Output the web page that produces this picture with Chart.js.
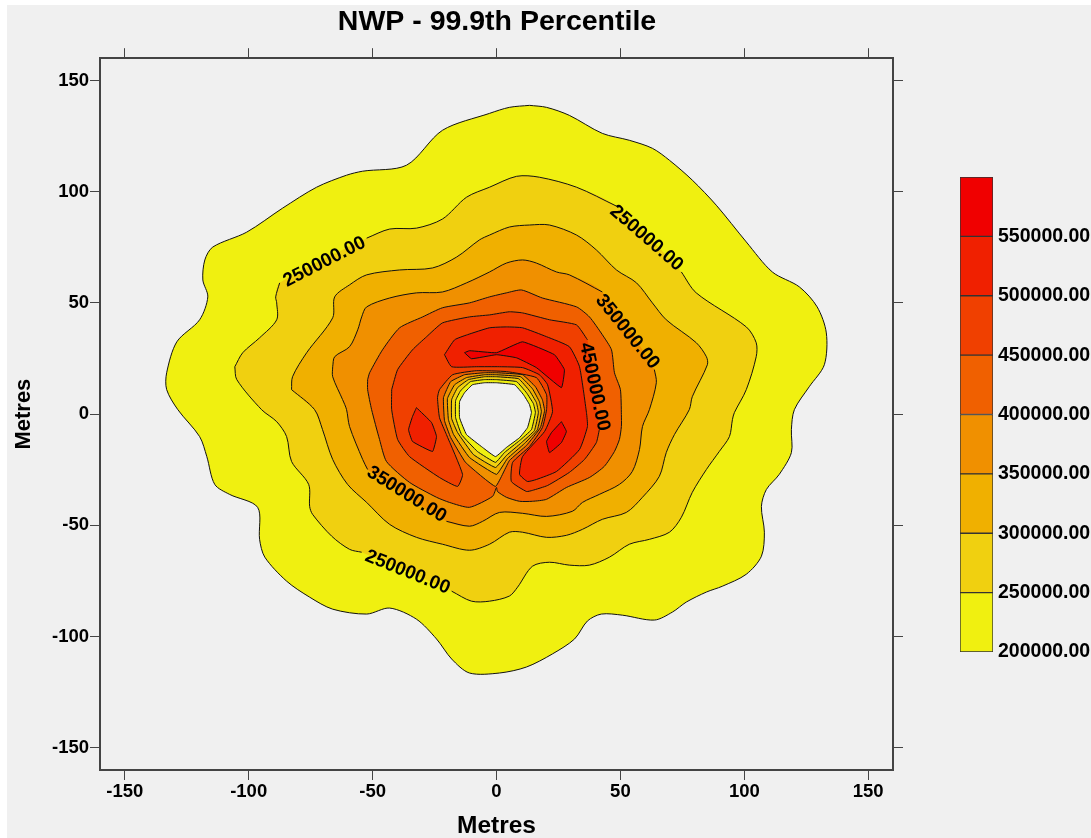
<!DOCTYPE html>
<html>
<head>
<meta charset="utf-8">
<title>NWP - 99.9th Percentile</title>
<script src="https://cdn.jsdelivr.net/npm/chart.js@4"></script>
<style>
  html, body { margin: 0; padding: 0; background: #fff; overflow: hidden; }
  #bg { position: absolute; left: 7px; top: 5px; width: 1084px; height: 833px; background: #f0f0f0; }
  #contourChart { position: absolute; left: 0; top: 0; }
  #scaleChart { position: absolute; left: 950px; top: 160px; }
</style>
</head>
<body>
<div id="bg"></div>
<canvas id="contourChart" width="994" height="838"></canvas>
<canvas id="scaleChart" width="141" height="510"></canvas>
<script>
// tick positions, metres
const tickValues = [-150, -100, -50, 0, 50, 100, 150];

// colour scale
const bandLevels = [200000, 250000, 300000, 350000, 400000, 450000, 500000, 550000, 600000];
const bandColors = ['#F0F010', '#F0D010', '#F0B000', '#F09000', '#F06000', '#F04000', '#F02000', '#F00000'];

// contour outlines as [x, y] in metres. null = line broken for a label
const contour200 = [[13.3,138.8],[20.2,137.9],[29.4,134.3],[42.7,126.2],[53.6,123.1],[62.9,119.5],[69.8,114.1],[79,105.2],[88.7,93.9],[100.8,77.4],[111.3,63.9],[122.2,57.2],[129.4,48.2],[133.1,36.5],[132.3,22.2],[126.2,12.3],[120.2,2],[119,-7],[119,-17.3],[114.1,-27.1],[108.9,-33.9],[106.9,-41.5],[108.1,-53.1],[106.9,-63.9],[100.8,-72],[91.1,-77.4],[84.7,-80],[76.6,-84.5],[71,-89],[63.7,-92.6],[50.8,-90.4],[42.3,-89.9],[36.7,-93],[31.5,-101.1],[22.6,-107.8],[12.1,-113.7],[1.2,-116.4],[-10.9,-116.4],[-18.1,-110.1],[-24.2,-101.1],[-32.3,-92.2],[-43.1,-87.2],[-52.4,-89.9],[-66.1,-87.7],[-75.4,-82.3],[-84.7,-75.1],[-93.5,-64.3],[-95.6,-56.3],[-96.4,-41.9],[-107.7,-36.1],[-113.7,-31.6],[-116.9,-19.1],[-119.8,-10.1],[-128.6,2],[-133.1,11],[-133.1,18.6],[-129,32.5],[-119.8,42.4],[-116.5,52.7],[-118.5,60.3],[-117.7,69.3],[-114.5,75.1],[-100.8,81.8],[-86.3,92.6],[-72.6,102],[-60.5,107.4],[-54,109.2],[-36.3,111.9],[-21.8,127.6],[-2.8,135.2],[5.2,137.9]];
const contour250 = [[-105.6,21.3],[-102.4,27.6],[-95.6,34.3],[-88.7,42.4],[-88.7,50],[-89.1,52.7],[-87.5,59],null,[-52.4,79.1],[-43.1,83.2],[-32.3,83.6],[-21.8,87.7],[-12.1,97.5],[-2.8,102],[8.1,106.9],[17.3,106.5],[32.3,102],[48.4,93.5],null,[74.6,63.9],[80.6,54.5],[100.8,39.2],[104.8,32.1],[104.8,25.8],[100.8,11],[96,0.7],[95.2,-2.5],[94,-10.1],[89.9,-16.8],[84.7,-24.9],[79,-35.2],[74.6,-46.4],[69.8,-53.1],[61.7,-56.3],[53.6,-58.5],[45.6,-64.3],[37.5,-67.9],[29.4,-67.9],[21.4,-66.6],[14.5,-68.4],[8.5,-77.8],[5.2,-81.8],[-2.8,-84.1],[-10.1,-84.1],[-18.1,-79.6],null,[-54.4,-62.1],[-59.3,-60.8],[-66.5,-54.9],[-74.2,-45.1],[-75.4,-41.5],[-75.8,-31.6],[-82.7,-21.3],[-84.7,-10.1],[-88.7,-3.4],[-94.8,2],[-104.8,15.5]];
const contour300 = [[-82.7,11],[-82.3,16.8],[-76.6,27.6],[-66.1,43.3],[-65.3,52.7],[-59.3,58.1],[-52.4,62.6],[-39.1,64.8],[-25.8,65.7],[-16.1,70.6],[-6.9,78.3],[-2.8,80.5],[5.2,84.1],[13.3,85],[21.4,85],[32.3,80.5],[40.3,73.8],[48.4,64.8],[56.5,59],[62.9,50],[68.5,42.4],[80.6,32.1],[84.7,25.8],[85.1,22.2],[79,7.8],[77.8,2],[71.8,-9.2],[68.5,-17.3],[65.7,-28],[58.9,-37.4],[52.4,-44.2],[42.7,-47.3],[34.7,-51.8],[28.2,-54.5],[20.2,-55.4],[10.5,-53.1],[5.2,-53.1],[-2.8,-58.5],[-10.9,-61.2],[-21.8,-58.5],[-32.3,-55.4],[-43.1,-49.6],[-52.4,-39.7],[-60.1,-31.6],[-66.1,-20.4],[-70.2,-7],[-73.4,2]];
const contour350 = [[-66.1,21.3],[-65.3,25.8],[-59.3,30.3],[-56,37.9],[-54.4,43.7],[-52.4,48.2],[-43.1,52.2],[-32.3,54.5],[-21.8,54.9],[-12.1,59],[-2.8,63.9],[4,67.9],[10.5,69.3],[16.1,67.9],[24.2,63.9],[29.4,62.6],[42.7,54.9],null,[63.7,20],[64.5,14.1],[61.7,2],[58.9,-5.6],[57.7,-15.9],[54.8,-25.8],[49.6,-31.6],[41.5,-36.1],[34.7,-39.7],[30.6,-43.7],[20.2,-46],[10.5,-44.6],[1.2,-44.2],[-5.6,-48.2],[-10.9,-50.4],[-20.2,-48.2],null,[-52,-24.9],[-54,-20.4],[-59.3,-5.6],[-60.5,2],[-62.1,6.5],[-66.1,16.8]];
const contour400 = [[-52,15.5],[-51.2,18.6],[-46,28.9],[-39.1,38.8],[-29.8,43.7],[-21.8,47.8],[-10.9,50],[-2.8,52.7],[4,54.5],[10.1,55.8],[18.5,52.2],[32.3,48.2],[37.5,43.7],[42.7,35.7],[46.4,28.9],[47.6,18.6],[50,11],[50.4,-0.2],[50.4,-5.6],[49.6,-11.4],[47.6,-16.8],[43.5,-23.5],[37.5,-28.5],[28.2,-33],[20.2,-38.3],[14.5,-39.2],[9.3,-39.2],[4,-37.4],[0.4,-34.8],[0,-33],[-1.6,-37],[-10.9,-41.9],[-19,-39.7],[-24.2,-37.4],[-35.1,-30.7],[-44.4,-21.3],[-47.2,-11.4],[-50.4,2],[-52,11]];
const contour450 = [[-42.3,11],[-39.9,20],[-33.9,28.9],[-28.2,34.8],[-21.8,41],[-10.9,43.7],[-2.8,44.6],[5.2,46],[10.5,45.5],[21.4,42.4],[32.3,40.1],[36.7,33.4],null,[41.5,-7],[40.3,-12.8],[35.5,-20.4],[29.4,-26.2],[20.6,-32.1],[14.5,-34.3],[12.1,-34.8],[6,-30.3],[6.5,-21.7],[13.3,-14.6],[18.5,-6.1],[20.2,2],[20.2,8.7],[16.1,16.4],[4,19.1],[-8.1,19.5],[-17.7,17.7],[-23,11],[-23.8,7.4],[-23,-1.6],[-20.2,-9.2],[-13.7,-27.1],[-15.7,-32.5],[-23,-28.5],[-35.1,-19.1],[-39.9,-11.4],[-42.3,2]];
const contour500 = [[-21,26.7],[-16.9,33.4],[-11.7,35.7],[-2.8,38.8],[4,39.2],[10.5,38.8],[20.2,34.8],[29.4,30.3],[33.5,21.3],[36.3,0.7],[36.7,-5.6],[33.5,-15.9],[24.2,-25.8],[16.1,-29.4],[12.5,-30.3],[9.3,-27.1],[10.5,-19.1],[19.4,-7.8],[22.6,1.1],[20.6,13.2],[17.3,17.7],[10.5,20.9],[1.2,21.3],[-8.1,21.3],[-18.1,21.3]];
const contour500Left = [[-32.3,2.9],[-26.2,-3.8],[-24.2,-10.1],[-25.8,-16.8],[-33.9,-12.3],[-35.5,-7],[-33.9,-1.1]];
const contour550 = [[-12.9,27.6],[-10.9,28.5],[0,27.6],[10.5,32.5],[23.4,26.7],[27.4,20],[26.2,11.9],[16.1,20.9],[8.1,25.3],[0,26.7],[-10.1,24.9]];
const contour550Right = [[26.2,-3.4],[28.2,-7.8],[26.2,-12.8],[21.4,-17.3],[20.2,-12.3],[22.2,-8.3]];

// rings round the empty middle, values falling towards the hole
const ring400 = [[0,18.6],[10.5,17.7],[15.7,12.3],[18.5,6.5],[19.4,1.6],[17.7,-6.1],[12.1,-14.1],[5.2,-20.9],[-0.4,-32.5],[-12.5,-21.7],[-18.5,-10.5],[-21,-2.9],[-21.4,7.4],[-18.5,14.6],[-12.9,17.7],[-4.8,18.6]];
const ring350 = [[0,17.7],[9.7,16.8],[14.5,11.4],[17.3,5.6],[18.1,1.1],[16.5,-7],[11.3,-13.2],[4.4,-20],[0,-27.1],[-10.9,-19.5],[-17.3,-9.2],[-19.4,-2.5],[-19.8,7],[-16.9,13.2],[-12.1,16.4],[-4.8,17.7]];
const ring300 = [[0,16.8],[8.9,15.9],[13.3,10.5],[16.1,5.2],[16.9,0.7],[15.3,-7.4],[10.1,-12.8],[4,-18.6],[-0.4,-24],[-9.3,-18.2],[-15.7,-8.3],[-18.1,-2],[-18.1,6.5],[-15.7,11.9],[-11.3,15.5],[-4.8,16.8]];
const ring250 = [[0,15.5],[8.1,14.6],[12.1,9.6],[14.9,4.7],[15.7,0.7],[14.1,-7],[9.3,-11.9],[3.2,-17.3],[-0.4,-21.7],[-7.7,-16.8],[-14.1,-9.2],[-16.5,-1.6],[-16.5,6.1],[-14.5,10.5],[-10.5,14.6],[-4.8,15.5]];
const ring200 = [[0,14.1],[7.3,13.2],[10.9,8.7],[13.3,4.3],[14.1,0.7],[12.5,-6.1],[9.3,-10.6],[4,-15],[-0.4,-19.1],[-5.6,-15],[-12.1,-9.2],[-14.9,-1.6],[-14.9,5.6],[-12.9,9.6],[-9.7,13.2],[-4.8,14.1]];

// contour labels, centre in metres and angle in degrees
const labelText = ['250000.00', '250000.00', '350000.00', '450000.00', '350000.00', '250000.00'];
const labelX = [-69.4, 60.5, 52.8, 39.5, -36.3, -35.9];
const labelY = [68.4, 79.1, 37, 12.3, -36.1, -71.1];
const labelAngle = [-27, 41, 51, 78, 32, 22];

const fontFamily = '"Liberation Sans", Arial, sans-serif';
const tickFont = { family: fontFamily, size: 18.5, weight: 'bold' };
const axisColor = '#444';

const layers = [
  [contour200, bandColors[0], 0.3],
  [contour250, bandColors[1], 0.3],
  [contour300, bandColors[2], 0.3],
  [contour350, bandColors[3], 0.3],
  [contour400, bandColors[4], 0.2],
  [contour450, bandColors[5], 0.15],
  [contour500, bandColors[6], 0.15],
  [contour500Left, bandColors[6], 0.1],
  [contour550, bandColors[7], 0.1],
  [contour550Right, bandColors[7], 0.1],
  [ring400, bandColors[3], 0.1],
  [ring350, bandColors[2], 0.1],
  [ring300, bandColors[1], 0.1],
  [ring250, bandColors[0], 0.1],
  [ring200, '#F0F0F0', 0.1]
];

function toPoints(outline) {
  return outline.map(p => p ? { x: p[0], y: p[1] } : { x: NaN, y: NaN });
}

const datasets = [];
layers.forEach(layer => {
  datasets.push({
    data: toPoints(layer[0].filter(p => p)),
    showLine: true, fill: 'shape', backgroundColor: layer[1],
    borderWidth: 0, pointRadius: 0, tension: layer[2]
  });
});
// contour lines go on top of all the fills
layers.forEach(layer => {
  const outline = layer[0].concat([layer[0][0]]);
  datasets.push({
    data: toPoints(outline),
    showLine: true, fill: false, spanGaps: false, borderColor: '#111',
    borderWidth: 1, pointRadius: 0, tension: layer[2]
  });
});
datasets.forEach((d, i) => { d.order = datasets.length - i; });

const contourLabels = {
  id: 'contourLabels',
  afterDatasetsDraw(chart) {
    const ctx = chart.ctx;
    ctx.save();
    ctx.fillStyle = '#000';
    ctx.font = 'bold 19px ' + fontFamily;
    ctx.textAlign = 'center';
    ctx.textBaseline = 'middle';
    labelText.forEach((t, i) => {
      ctx.save();
      ctx.translate(chart.scales.x.getPixelForValue(labelX[i]), chart.scales.y.getPixelForValue(labelY[i]));
      ctx.rotate(labelAngle[i] * Math.PI / 180);
      ctx.fillText(t, 0, 0);
      ctx.restore();
    });
    ctx.restore();
  }
};

function setTicks(scale) {
  scale.ticks = tickValues.map(v => ({ value: v }));
}

function axis(position, size, showLabels, title) {
  return {
    type: 'linear', position: position, min: -160, max: 160,
    afterBuildTicks: setTicks,
    afterFit(scale) {
      if (scale.isHorizontal()) scale.height = size; else scale.width = size;
    },
    border: { display: true, color: axisColor, width: 2 },
    grid: { drawOnChartArea: false, drawTicks: true, tickLength: 10, color: axisColor, lineWidth: 1 },
    ticks: {
      display: showLabels, color: '#000', font: tickFont, padding: 1,
      maxRotation: 0, autoSkip: false, includeBounds: false
    },
    title: title
  };
}

new Chart(document.getElementById('contourChart').getContext('2d'), {
  type: 'scatter',
  data: { datasets: datasets },
  plugins: [contourLabels],
  options: {
    responsive: false,
    animation: false,
    plugins: {
      legend: { display: false },
      tooltip: { enabled: false },
      title: {
        display: true, text: 'NWP - 99.9th Percentile', color: '#000',
        font: { family: fontFamily, size: 28.5, weight: 'bold' },
        padding: { top: 5, bottom: 9 }
      }
    },
    scales: {
      x: axis('bottom', 68, true, {
        display: true, text: 'Metres', color: '#000', padding: { top: 8, bottom: -3 },
        font: { family: fontFamily, size: 24.5, weight: 'bold' }
      }),
      y: axis('left', 100, true, {
        display: true, text: 'Metres', color: '#000', padding: { top: 11, bottom: 0 },
        font: { family: fontFamily, size: 22, weight: 'bold' }
      }),
      xTop: axis('top', 10, false, { display: false }),
      yRight: axis('right', 101, false, { display: false })
    }
  }
});

// colour scale on its own canvas
new Chart(document.getElementById('scaleChart').getContext('2d'), {
  type: 'bar',
  data: {
    labels: ['scale'],
    datasets: bandColors.map((c, i) => ({
      data: [[bandLevels[i], bandLevels[i + 1]]],
      backgroundColor: c, borderColor: '#333', borderWidth: 1,
      grouped: false, barPercentage: 1, categoryPercentage: 1, borderSkipped: false
    }))
  },
  options: {
    responsive: false,
    animation: false,
    layout: { padding: { left: 10, right: 0, top: 17, bottom: 18 } },
    plugins: { legend: { display: false }, tooltip: { enabled: false } },
    scales: {
      x: { display: false },
      y: {
        position: 'right', min: 200000, max: 600000,
        afterFit(scale) { scale.width = 98; },
        afterBuildTicks(scale) {
          scale.ticks = bandLevels.slice(0, -1).map(v => ({ value: v }));
        },
        border: { display: false },
        grid: { display: false, drawTicks: false },
        ticks: {
          color: '#000', font: { family: fontFamily, size: 19.5, weight: 'bold' }, padding: 5, autoSkip: false,
          callback: v => v.toFixed(2)
        }
      }
    }
  }
});
</script>
</body>
</html>
